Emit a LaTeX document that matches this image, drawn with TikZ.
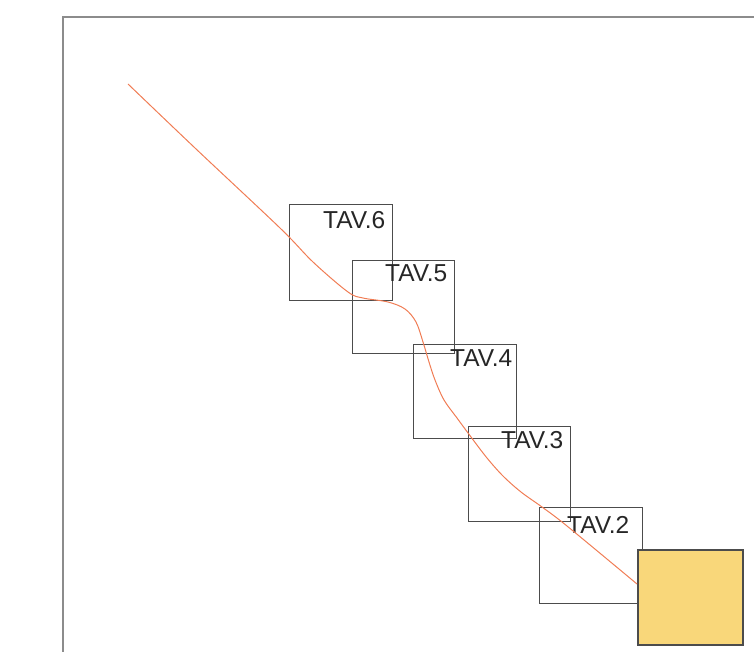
\documentclass[tikz,border=0pt]{standalone}
\usepackage{fontspec}
\setmainfont{Liberation Sans}
\begin{document}
\begin{tikzpicture}[x=1pt,y=-1pt,
  tavbox/.style={draw=black!70,line width=1pt,fill=none,inner sep=0pt,minimum width=103pt,minimum height=96pt},
  tavlabel/.style={anchor=north east,inner sep=0pt,font=\fontsize{24.5}{24.5}\selectfont,text=black!85},
  frameline/.style={draw=black!45,line width=2pt},
  route/.style={draw={rgb,255:red,240;green,125;blue,85},line width=1pt}]
\useasboundingbox (0,0) rectangle (754,652);
% frame
\coordinate (fbl) at (63,652);
\coordinate (ftl) at (63,17);
\coordinate (ftr) at (754,17);
\draw[frameline] (fbl) -- (ftl) -- (ftr);
% boxes
\node[tavbox,minimum width=103pt,minimum height=95pt] (b6) at (340.5,252.5) {};
\node[tavbox,minimum width=102pt,minimum height=93pt] (b5) at (403,306.5) {};
\node[tavbox,minimum width=103pt,minimum height=94pt] (b4) at (464.5,391) {};
\node[tavbox,minimum width=102pt,minimum height=95pt] (b3) at (519,473.5) {};
\node[tavbox,minimum width=103pt,minimum height=96pt] (b2) at (590.5,555) {};
% labels
\node[tavlabel] (l6) at ([xshift=-7pt,yshift=-7pt]b6.north east) {TAV.6};
\node[tavlabel] (l5) at ([xshift=-7pt,yshift=-5pt]b5.north east) {TAV.5};
\node[tavlabel] (l4) at ([xshift=-4pt,yshift=-6pt]b4.north east) {TAV.4};
\node[tavlabel] (l3) at ([xshift=-7pt,yshift=-6pt]b3.north east) {TAV.3};
\node[tavlabel] (l2) at ([xshift=-13pt,yshift=-10pt]b2.north east) {TAV.2};
% yellow square
\node[draw=black!70,line width=1.2pt,fill={rgb,255:red,249;green,215;blue,122},inner sep=0pt,minimum width=105pt,minimum height=95pt] (ys) at (690.5,597.5) {};
% route
\coordinate (rs) at (128,84);
\coordinate (re) at (637,584);
\draw[route] plot[smooth,tension=0.55] coordinates {(rs) (195,148) (280,228) (313,262) (348,292) (363,298) (388,302) (405,309) (416,322) (423,342) (429,362) (435,380) (444,400) (457,418) (471,437) (487,458) (503,476) (521,492) (542,507) (567,526) (re)};
\end{tikzpicture}
\end{document}
